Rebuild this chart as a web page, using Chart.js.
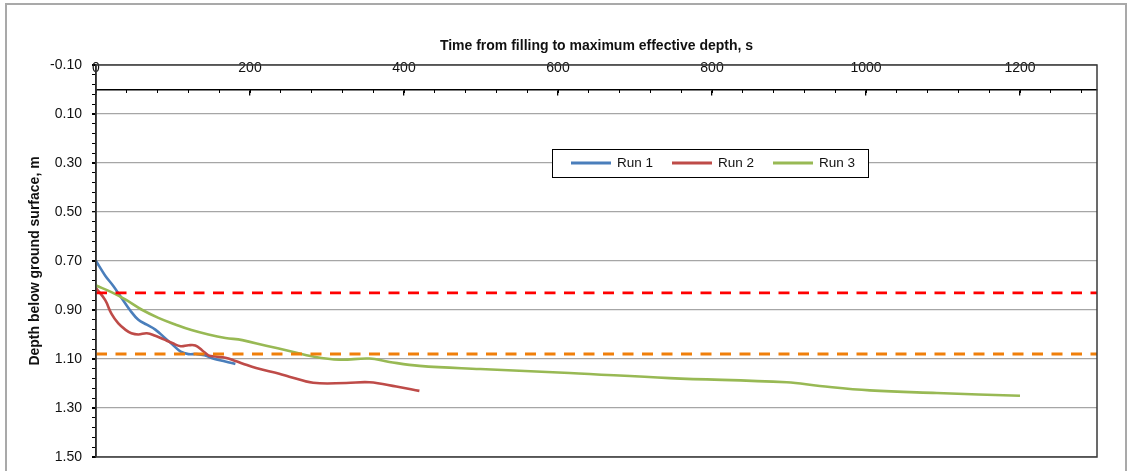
<!DOCTYPE html>
<html><head><meta charset="utf-8">
<script src="https://cdn.jsdelivr.net/npm/chart.js@4.4.0/dist/chart.umd.min.js"></script>
<style>
html,body{margin:0;padding:0;background:#fff;}
#wrap{position:relative;width:1133px;height:471px;overflow:hidden;background:#fff;}
#frame{position:absolute;left:5px;top:3px;width:1122px;height:490px;border:2px solid #A9A9A9;box-sizing:border-box;}
canvas{position:absolute;left:0;top:0;}
</style></head><body>
<div id="wrap"><div id="frame"></div><canvas id="c" width="1133" height="471"></canvas></div>
<script>
// ---- data ----
const run1Time  = [0, 12, 22, 33, 44, 55, 66, 77, 88, 99, 110, 120, 131, 141, 154, 168, 181];
const run1Depth = [0.70, 0.76, 0.80, 0.85, 0.90, 0.94, 0.96, 0.98, 1.01, 1.04, 1.07, 1.08, 1.08, 1.085, 1.10, 1.11, 1.12];

const run2Time  = [0, 12, 20, 29, 38, 46, 55, 66, 77, 88, 99, 110, 120, 129, 138, 146, 155, 168, 181, 190, 208, 238, 251, 282, 325, 355, 390, 420];
const run2Depth = [0.81, 0.86, 0.915, 0.955, 0.98, 0.995, 1.00, 0.995, 1.005, 1.02, 1.035, 1.048, 1.044, 1.045, 1.065, 1.085, 1.09, 1.095, 1.108, 1.118, 1.137, 1.16, 1.172, 1.197, 1.198, 1.195, 1.212, 1.23];

const run3Time  = [0, 20, 38, 59, 81, 103, 124, 146, 168, 190, 221, 251, 282, 316, 355, 381, 420, 499, 615, 745, 897, 940, 1005, 1092, 1200];
const run3Depth = [0.80, 0.827, 0.857, 0.898, 0.932, 0.959, 0.982, 1.0, 1.014, 1.023, 1.046, 1.067, 1.09, 1.103, 1.098, 1.112, 1.128, 1.141, 1.157, 1.178, 1.195, 1.21, 1.228, 1.239, 1.25];

const seriesLabels = ['Run 1', 'Run 2', 'Run 3'];
const refLineTime  = [0, 1300];
const redRefDepth    = 0.83;
const orangeRefDepth = 1.08;

const xTickValues = [0, 200, 400, 600, 800, 1000, 1200];
const yTickValues = [-0.10, 0.10, 0.30, 0.50, 0.70, 0.90, 1.10, 1.30, 1.50];
const xMin = 0, xMax = 1300, xMinorStep = 40;
const yMin = -0.10, yMax = 1.50, yMinorStep = 0.04;

const xTitle = 'Time from filling to maximum effective depth, s';
const yTitle = 'Depth below ground surface, m';

// ---- build ----
const toPts = (xs, ys) => xs.map((x, i) => ({x: x, y: ys[i]}));
const FONT = '"Liberation Sans", Arial, sans-serif';
Chart.defaults.font.family = FONT;
Chart.defaults.font.size = 14;
Chart.defaults.color = '#111';

const runStyle = {borderWidth: 2.6, pointRadius: 0, tension: 0.4, fill: false, xAxisID: 'x', yAxisID: 'y'};
const datasets = [
  Object.assign({label: seriesLabels[0], data: toPts(run1Time, run1Depth), borderColor: '#4A7EBB', order: 3, inLegend: true}, runStyle),
  Object.assign({label: seriesLabels[1], data: toPts(run2Time, run2Depth), borderColor: '#BE4B48', order: 2, inLegend: true}, runStyle),
  Object.assign({label: seriesLabels[2], data: toPts(run3Time, run3Depth), borderColor: '#98B954', order: 1, inLegend: true}, runStyle),
  {label: 'ref1', data: refLineTime.map(t => ({x: t, y: redRefDepth})), borderColor: '#FF0000', borderWidth: 2.6,
   borderDash: [11, 8.5], pointRadius: 0, tension: 0, order: 0, xAxisID: 'x', yAxisID: 'y'},
  {label: 'ref2', data: refLineTime.map(t => ({x: t, y: orangeRefDepth})), borderColor: '#F07F0A', borderWidth: 3,
   borderDash: [11, 8.5], pointRadius: 0, tension: 0, order: 0, xAxisID: 'x', yAxisID: 'y'}
];

const frameBorder = {
  id: 'frameBorder',
  afterDraw(chart) {
    const a = chart.chartArea, ctx = chart.ctx;
    ctx.save();
    ctx.strokeStyle = '#3a3a3a';
    ctx.lineWidth = 1.5;
    ctx.strokeRect(a.left, a.top, a.right - a.left, a.bottom - a.top);
    ctx.restore();
  }
};

const boxLegend = {
  id: 'boxLegend',
  afterDraw(chart) {
    const ctx = chart.ctx;
    const bx = 552, by = 149, bw = 316, bh = 28;
    ctx.save();
    ctx.fillStyle = '#fff';
    ctx.fillRect(bx, by, bw, bh);
    ctx.strokeStyle = '#000';
    ctx.lineWidth = 1;
    ctx.strokeRect(bx + 0.5, by + 0.5, bw, bh);
    ctx.font = '13.5px ' + FONT;
    ctx.textBaseline = 'middle';
    ctx.textAlign = 'left';
    const cy = by + bh / 2;
    let x = 571;
    chart.data.datasets.filter(d => d.inLegend).forEach(d => {
      ctx.strokeStyle = d.borderColor;
      ctx.lineWidth = 3;
      ctx.beginPath(); ctx.moveTo(x, cy); ctx.lineTo(x + 40, cy); ctx.stroke();
      ctx.fillStyle = '#111';
      ctx.fillText(d.label, x + 46, cy + 0.5);
      x += 101;
    });
    ctx.restore();
  }
};

new Chart(document.getElementById('c'), {
  type: 'line',
  data: {datasets: datasets},
  plugins: [frameBorder, boxLegend],
  options: {
    responsive: false,
    animation: false,
    devicePixelRatio: 1,
    layout: {padding: {left: 0, top: 0, right: 36, bottom: 14}},
    plugins: {legend: {display: false}, tooltip: {enabled: false}},
    scales: {
      x: {
        type: 'linear', position: 'top', min: xMin, max: xMax,
        afterBuildTicks: s => { s.ticks = xTickValues.map(v => ({value: v})); },
        ticks: {mirror: true, padding: -5, maxRotation: 0, autoSkip: false, callback: v => String(v)},
        grid: {display: false, drawTicks: false},
        border: {display: false},
        title: {display: true, text: xTitle, padding: {top: 38, bottom: 0}, font: {size: 14, weight: 'bold'}},
        afterFit: s => { s.height = 65; s.paddingLeft = 0; s.paddingRight = 0; }
      },
      x0: {
        type: 'linear', position: {y: 0}, min: xMin, max: xMax,
        afterBuildTicks: s => { s.ticks = xTickValues.map(v => ({value: v})); },
        ticks: {display: false},
        grid: {drawOnChartArea: false, drawTicks: true, tickLength: 5, color: '#000', lineWidth: 1.3},
        border: {display: true, color: '#000', width: 1.5},
        afterFit: s => { s.height = 0; }
      },
      xMinor: {
        type: 'linear', position: {y: 0}, min: xMin, max: xMax,
        ticks: {display: false, stepSize: xMinorStep, includeBounds: false},
        grid: {drawOnChartArea: false, drawTicks: true, tickLength: 3, color: '#000', lineWidth: 1},
        border: {display: false},
        afterFit: s => { s.height = 0; }
      },
      y: {
        type: 'linear', position: 'left', reverse: true, min: yMin, max: yMax,
        afterBuildTicks: s => { s.ticks = yTickValues.map(v => ({value: v})); },
        ticks: {padding: 10, callback: v => Number(v).toFixed(2)},
        grid: {color: '#A6A6A6', lineWidth: 1.3, tickLength: 4, tickColor: '#000', tickWidth: 1.3},
        border: {display: true, color: '#000', width: 1.5},
        title: {display: true, text: yTitle, padding: {top: 27, bottom: 0}, font: {size: 14, weight: 'bold'}},
        afterFit: s => { s.width = 96; s.paddingTop = 0; s.paddingBottom = 0; }
      },
      yMinor: {
        type: 'linear', position: {x: 0}, reverse: true, min: yMin, max: yMax,
        ticks: {display: false, stepSize: yMinorStep},
        grid: {drawOnChartArea: false, drawTicks: true, tickLength: 4, color: '#000', lineWidth: 1},
        border: {display: false},
        afterFit: s => { s.width = 0; s.paddingTop = 0; s.paddingBottom = 0; }
      }
    }
  }
});
</script>
</body></html>
